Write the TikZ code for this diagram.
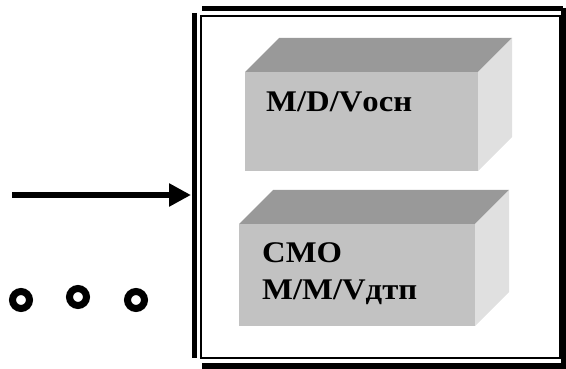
\documentclass[tikz,border=0pt]{standalone}
\usepackage{fontspec}
\newfontfamily\smofont[FakeStretch=1.09]{Liberation Serif}
\usetikzlibrary{arrows.meta}
\definecolor{facefront}{HTML}{C2C2C2}
\definecolor{facetop}{HTML}{999999}
\definecolor{faceside}{HTML}{E0E0E0}
\tikzset{
	bar/.style={line width=5pt},
	label text/.style={font=\smofont\bfseries\fontsize{30}{37}\selectfont,inner sep=0pt,align=left},
	ring/.style={line width=7pt}
}
\begin{document}
\begin{tikzpicture}[x=1pt,y=-1pt]
		\useasboundingbox (0,0) rectangle (566,369);
		% frame
		\draw[line width=1.4pt] (201,16) rectangle (560,358);
		\draw[bar] (194.5,13)--(194.5,358) coordinate (inlet);
		\draw[bar] (202,8.5)--(563,8.5);
		\draw[bar] (563,8)--(563,366);
		\draw[bar,line width=6pt] (202,365.5)--(566,365.5);
		% boxes
		\foreach \n/\xa/\ya/\xb/\yb in {upperbox/245/72/478/171,lowerbox/239/224/475/326} {
			\fill[facetop] (\xa,\ya) -- ++(34,-34) -- (\xb+34,\ya-34) -- (\xb,\ya) -- cycle;
			\fill[faceside] (\xb,\ya) -- ++(34,-34) -- (\xb+34,\yb-34) -- (\xb,\yb) -- cycle;
			\fill[facefront] (\xa,\ya) rectangle (\xb,\yb) coordinate (\n);
		}
		\node[label text,anchor=base west] (mdv) at (266,112) {M/D/Vосн};
		\node[label text,anchor=north west] (smo) at (262,242.5) {СМО\\M/M/Vдтп};
		% input
		\coordinate (source) at (12,195);
		\draw[line width=6.5pt,-{Triangle[length=22pt,width=22pt]}] (source) -- ([xshift=-3.5pt]source -| inlet);
		\foreach \x/\y in {21/300,78/297,136/300} \draw[ring] (\x,\y) circle (8.5);
	\end{tikzpicture}
\end{document}
